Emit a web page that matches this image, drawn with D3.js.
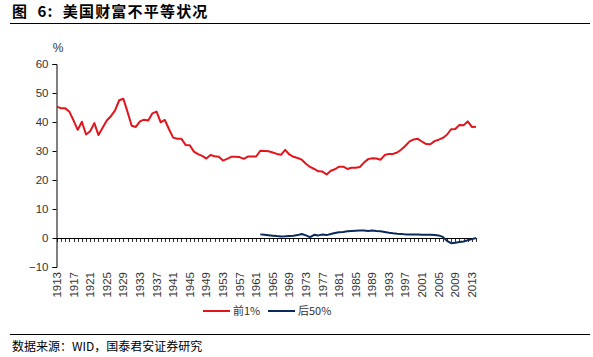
<!DOCTYPE html>
<html><head><meta charset="utf-8">
<script src="https://cdn.jsdelivr.net/npm/d3@7"></script>
<style>
body{margin:0;background:#fff;}
svg{display:block;}
</style></head>
<body>
<svg id="c" width="593" height="357"></svg>
<script>
const years = [1913,1914,1915,1916,1917,1918,1919,1920,1921,1922,1923,1924,1925,1926,1927,1928,1929,1930,1931,1932,1933,1934,1935,1936,1937,1938,1939,1940,1941,1942,1943,1944,1945,1946,1947,1948,1949,1950,1951,1952,1953,1954,1955,1956,1957,1958,1959,1960,1961,1962,1963,1964,1965,1966,1967,1968,1969,1970,1971,1972,1973,1974,1975,1976,1977,1978,1979,1980,1981,1982,1983,1984,1985,1986,1987,1988,1989,1990,1991,1992,1993,1994,1995,1996,1997,1998,1999,2000,2001,2002,2003,2004,2005,2006,2007,2008,2009,2010,2011,2012,2013,2014];
const top1 = [45.3,44.7,44.7,43.5,40.5,37.3,40.1,35.7,36.8,39.6,35.5,38.0,40.5,42.0,44.0,47.5,48.0,43.5,38.7,38.3,40.2,40.8,40.5,43.0,43.6,39.9,40.7,37.5,34.6,34.2,34.2,32.1,32.0,29.8,28.9,28.3,27.4,28.6,28.2,28.0,26.7,27.3,28.0,28.0,27.9,27.3,28.1,28.1,28.1,30.1,30.0,29.9,29.5,29.0,28.7,30.4,28.8,28.0,27.6,27.0,25.6,24.5,23.8,23.0,22.9,21.9,23.2,23.7,24.6,24.6,23.8,24.2,24.2,24.5,26.0,27.2,27.5,27.4,27.0,28.6,29.0,29.0,29.5,30.5,31.8,33.3,34.0,34.2,33.2,32.4,32.3,33.4,33.9,34.5,35.6,37.5,37.6,39.0,38.9,40.2,38.3,38.4];
const bottom50Years = [1962,1963,1964,1965,1966,1967,1968,1969,1970,1971,1972,1973,1974,1975,1976,1977,1978,1979,1980,1981,1982,1983,1984,1985,1986,1987,1988,1989,1990,1991,1992,1993,1994,1995,1996,1997,1998,1999,2000,2001,2002,2003,2004,2005,2006,2007,2008,2009,2010,2011,2012,2013,2014];
const bottom50 = [1.25,1.1,0.95,0.8,0.65,0.55,0.6,0.7,0.8,1.0,1.4,0.9,0.3,1.1,0.9,1.2,1.0,1.4,1.7,2.0,2.1,2.3,2.4,2.5,2.6,2.6,2.4,2.6,2.4,2.3,2.1,1.8,1.6,1.45,1.35,1.25,1.25,1.2,1.2,1.15,1.1,1.1,1.0,0.9,0.4,-1.0,-1.8,-1.6,-1.4,-1.2,-0.8,-0.4,0.0];
const yTicks = [-10,0,10,20,30,40,50,60];
const xLabelYears = [1913,1917,1921,1925,1929,1933,1937,1941,1945,1949,1953,1957,1961,1965,1969,1973,1977,1981,1985,1989,1993,1997,2001,2005,2009,2013];
const seriesNames = ["前1%","后50%"];
const colors = ["#e3151c","#0b2a5c"];

const svg = d3.select("#c");
const cjk = "'Noto Sans CJK SC', sans-serif";
const sans = "'Liberation Sans', Arial, sans-serif";

// Title
svg.append("text").attr("x",12).attr("y",17).attr("font-family",cjk).attr("font-weight","bold")
  .attr("font-size",15).attr("fill","#000").attr("letter-spacing",1.2)
  .attr("xml:space","preserve").style("white-space","pre")
  .text("图  6:  美国财富不平等状况");
svg.append("line").attr("x1",10).attr("x2",590).attr("y1",23.5).attr("y2",23.5).attr("stroke","#000").attr("stroke-width",1.2);

const x = d3.scalePoint().domain(years).range([57,476]);
const y = d3.scaleLinear().domain([-10,60]).range([267,64]);

// Y axis
const yAxis = svg.append("g").attr("transform","translate(56.5,0)")
  .call(d3.axisLeft(y).tickValues(yTicks).tickSize(4).tickFormat(d3.format("d")));
yAxis.select(".domain").attr("stroke","#000");
yAxis.selectAll(".tick line").attr("stroke","#000");
yAxis.selectAll("text").attr("font-family",sans).attr("font-size",11.5).attr("fill","#333").attr("x",-8);

svg.append("text").attr("x",58).attr("y",52).attr("text-anchor","middle").attr("font-family",sans)
  .attr("font-size",12).attr("fill","#333").text("%");

// X axis line at 0 with ticks every year
const x0 = y(0);
svg.append("line").attr("x1",56).attr("x2",477).attr("y1",x0+0.5).attr("y2",x0+0.5).attr("stroke","#000");
const tickG = svg.append("g");
tickG.selectAll("line").data(years).join("line")
  .attr("x1",d=>Math.round(x(d))+0.5).attr("x2",d=>Math.round(x(d))+0.5)
  .attr("y1",x0).attr("y2",x0+4).attr("stroke","#000").attr("stroke-width",0.8);

// X labels rotated (low position)
svg.append("g").selectAll("text").data(xLabelYears).join("text")
  .attr("transform",d=>`translate(${x(d)+4},272) rotate(-90)`)
  .attr("text-anchor","end").attr("font-family",sans).attr("font-size",11.5).attr("fill","#333")
  .text(d=>d);

// Lines
const line = d3.line().x(d=>x(d[0])).y(d=>y(d[1]));
svg.append("path").datum(years.map((yr,i)=>[yr,top1[i]])).attr("d",line)
  .attr("fill","none").attr("stroke",colors[0]).attr("stroke-width",2).attr("stroke-linejoin","round");
svg.append("path").datum(bottom50Years.map((yr,i)=>[yr,bottom50[i]])).attr("d",line)
  .attr("fill","none").attr("stroke",colors[1]).attr("stroke-width",2).attr("stroke-linejoin","round");

// Legend
const leg = [[203,seriesNames[0],colors[0]],[268,seriesNames[1],colors[1]]];
leg.forEach(([lx,name,c])=>{
  svg.append("line").attr("x1",lx).attr("x2",lx+27).attr("y1",311).attr("y2",311).attr("stroke",c).attr("stroke-width",2);
  svg.append("text").attr("x",lx+30).attr("y",315).attr("font-family",cjk).attr("font-size",11).attr("fill","#333").text(name);
});

// Bottom rule and source
svg.append("line").attr("x1",10).attr("x2",590).attr("y1",334.5).attr("y2",334.5).attr("stroke","#000").attr("stroke-width",1.2);
svg.append("text").attr("x",12).attr("y",351).attr("font-family",cjk).attr("font-size",12).attr("fill","#000")
  .text("数据来源：WID，国泰君安证券研究");
</script>
</body></html>
